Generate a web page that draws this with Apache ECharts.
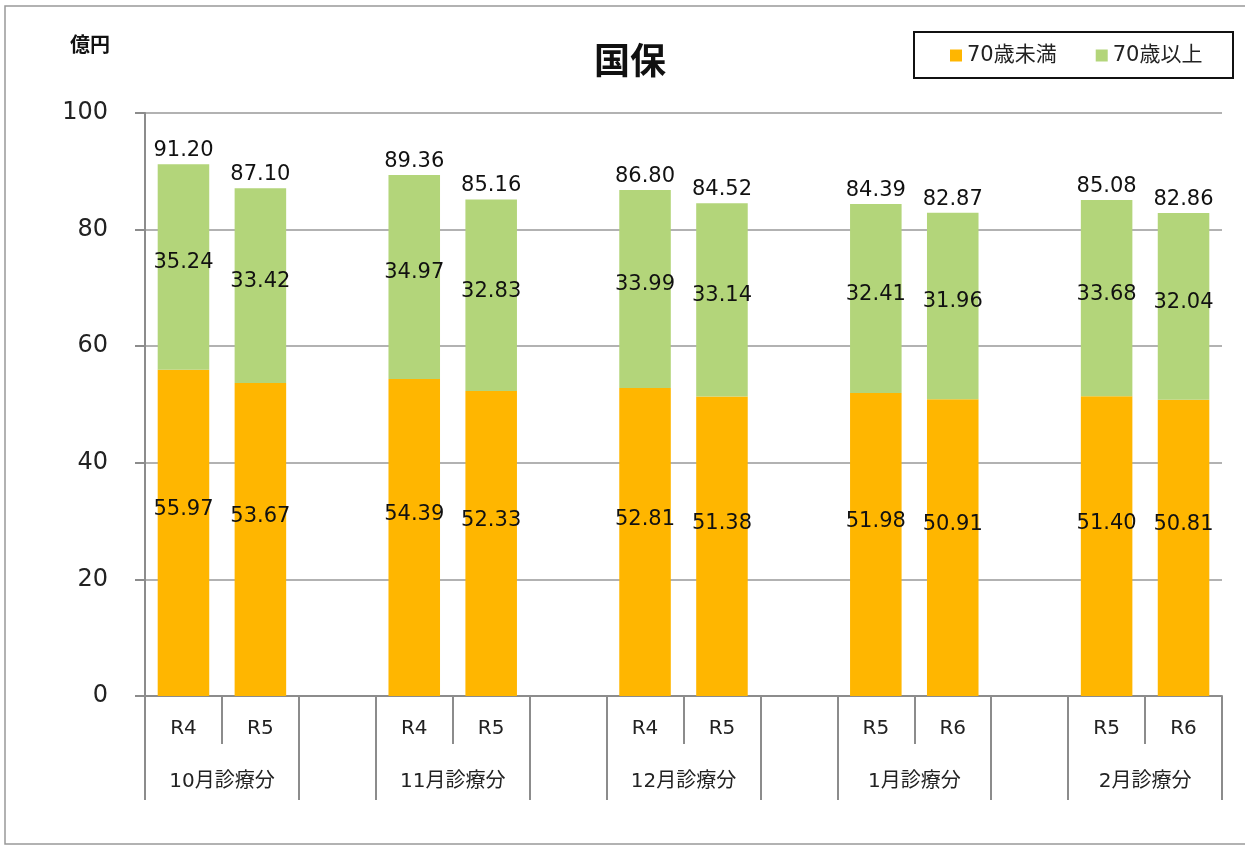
<!DOCTYPE html>
<html>
<head>
<meta charset="utf-8">
<script src="https://cdn.jsdelivr.net/npm/echarts@6/dist/echarts.min.js"></script>
<style>
  html, body { margin: 0; padding: 0; background: #fff; }
  #chart { width: 1245px; height: 846px; }
</style>
</head>
<body>
<div id="chart"></div>
<script>
// カテゴリ（空文字はグループ間の空き）
const categories = ['R4', 'R5', '', 'R4', 'R5', '', 'R4', 'R5', '', 'R5', 'R6', '', 'R5', 'R6'];
const groupNames = ['10月診療分', '11月診療分', '12月診療分', '1月診療分', '2月診療分'];
const under70 = [55.97, 53.67, null, 54.39, 52.33, null, 52.81, 51.38, null, 51.98, 50.91, null, 51.40, 50.81];
const over70 = [35.24, 33.42, null, 34.97, 32.83, null, 33.99, 33.14, null, 32.41, 31.96, null, 33.68, 32.04];
const totals = [91.20, 87.10, null, 89.36, 85.16, null, 86.80, 84.52, null, 84.39, 82.87, null, 85.08, 82.86];
const seriesNames = ['70歳未満', '70歳以上'];
const colors = ['#FFB600', '#B3D57A'];

const numFont = 'DejaVu Sans';
const jpFont = '"DejaVu Sans", "Noto Sans CJK JP", sans-serif';

const chart = echarts.init(document.getElementById('chart'));

const option = {
    animation: false,
    color: colors,
    title: {
        text: '国保',
        left: 625, top: 37, textAlign: 'center',
        textStyle: { fontFamily: '"Noto Sans CJK JP"', fontSize: 36, fontWeight: 'bold', color: '#111' }
    },
    legend: {
        data: seriesNames,
        left: 950, top: 45,
        padding: 0,
        itemWidth: 12, itemHeight: 12, itemGap: 39,
        icon: 'rect',
        textStyle: { fontFamily: jpFont, fontSize: 21, color: '#222', padding: [0, 0, 0, 0] }
    },
    graphic: [
        { type: 'rect', shape: { x: 5, y: 6, width: 1245, height: 838 }, style: { fill: 'none', stroke: '#999', lineWidth: 1.5 }, silent: true },
        { type: 'rect', shape: { x: 914, y: 32, width: 319, height: 46 }, style: { fill: 'none', stroke: '#111', lineWidth: 2 }, silent: true },
        { type: 'text', left: 70, top: 34, style: { text: '億円', font: 'bold 20px "Noto Sans CJK JP"', fill: '#111' } }
    ],
    grid: { left: 145, right: 23, top: 113, bottom: 150 },
    xAxis: [
        {
            type: 'category',
            data: categories,
            axisLine: { lineStyle: { color: '#8c8c8c', width: 2 } },
            axisTick: { show: true, interval: 0, length: 48, lineStyle: { color: '#8c8c8c', width: 2 } },
            axisLabel: { interval: 0, margin: 23, fontFamily: jpFont, fontSize: 20, color: '#222' }
        },
        {
            type: 'value',
            position: 'bottom',
            min: 0, max: categories.length,
            axisLine: { show: false },
            splitLine: { show: false },
            axisTick: { show: true, length: 104, customValues: [0, 2, 3, 5, 6, 8, 9, 11, 12, 14], lineStyle: { color: '#8c8c8c', width: 2 } },
            axisLabel: {
                margin: 76, fontFamily: jpFont, fontSize: 20, color: '#222',
                customValues: [1, 4, 7, 10, 13],
                formatter: (v) => groupNames[Math.round((v - 1) / 3)]
            }
        }
    ],
    yAxis: {
        type: 'value',
        min: 0, max: 100, interval: 20,
        axisLine: { show: true, lineStyle: { color: '#8c8c8c', width: 2 } },
        axisTick: { show: true, length: 10, lineStyle: { color: '#8c8c8c', width: 2 } },
        splitLine: { lineStyle: { color: '#999', width: 1.5 } },
        axisLabel: { margin: 37, fontFamily: numFont, fontSize: 24, color: '#222' }
    },
    series: [
        {
            name: seriesNames[0], type: 'bar', stack: 'total', barWidth: '67%',
            data: under70,
            label: { show: true, position: 'inside', offset: [0, -23], formatter: (p) => p.value.toFixed(2), fontFamily: numFont, fontSize: 21, color: '#111' }
        },
        {
            name: seriesNames[1], type: 'bar', stack: 'total', barWidth: '67%',
            data: over70,
            label: { show: true, position: 'inside', offset: [0, -4], formatter: (p) => p.value.toFixed(2), fontFamily: numFont, fontSize: 21, color: '#111' }
        },
        {
            name: '合計', type: 'bar', stack: 'total', barWidth: '67%',
            data: totals.map(t => (t == null ? null : 0)),
            itemStyle: { color: 'transparent' },
            label: {
                show: true, position: 'top', distance: 3,
                formatter: (p) => (totals[p.dataIndex] == null ? '' : totals[p.dataIndex].toFixed(2)),
                fontFamily: numFont, fontSize: 21, color: '#111'
            }
        }
    ]
};

chart.setOption(option);
</script>
</body>
</html>
